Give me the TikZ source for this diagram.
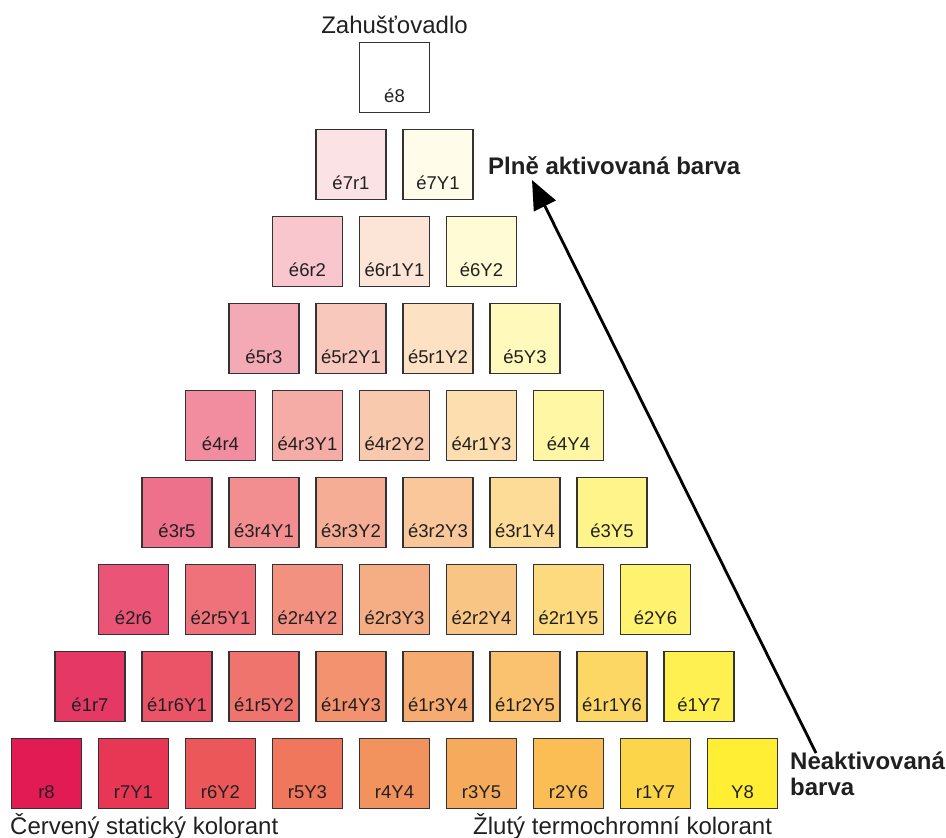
\documentclass[tikz,border=0pt]{standalone}
\usepackage{fontspec}
\setmainfont{Liberation Sans}
\usetikzlibrary{arrows.meta}

\definecolor{edge}{HTML}{333333}
\definecolor{ink}{HTML}{202020}

% Colour of the pure red/yellow mixtures (bottom row, 8 parts red ... 8 parts yellow)
\def\redch{{226,232,236,240,242,246,251,253,255}}
\def\grnch{{27,55,88,118,146,171,190,213,238}}
\def\bluch{{85,85,90,92,92,92,85,72,52}}

\begin{document}
\begin{tikzpicture}[x=1pt,y=-1pt,
  cellbox/.style={draw=edge, line width=1.4pt, minimum size=70pt, inner sep=0pt},
  celltext/.style={font=\fontsize{18.5}{20}\selectfont, text=ink, inner sep=0pt, anchor=base},
  caption/.style={font=\fontsize{24}{26}\selectfont, text=ink, inner sep=0pt, anchor=base west},
  callout/.style={font=\bfseries\fontsize{24}{26}\selectfont, text=ink, inner sep=0pt, anchor=base west},
  pointer/.style={line width=2.8pt, draw=black, -{Triangle[length=29pt,width=24pt]}}
]
\useasboundingbox (0,0) rectangle (946,838);

% Triangle of swatches: row k has k+1 cells, é = 8-k, r = k-j, Y = j
\foreach \k in {0,...,8} {
  \foreach \j in {0,...,\k} {
    \pgfmathtruncatemacro\nE{8-\k}
    \pgfmathtruncatemacro\nR{\k-\j}
    \pgfmathtruncatemacro\nY{\j}
    \ifnum\k=0
      \definecolor{cellfill}{RGB}{255,255,255}
    \else
      \pgfmathsetmacro\tpos{8*\j/\k}
      \pgfmathtruncatemacro\ia{floor(\tpos+0.0001)}
      \pgfmathtruncatemacro\ib{min(\ia+1,8)}
      \pgfmathsetmacro\fr{max(\tpos-\ia,0)}
      \pgfmathsetmacro\cR{\redch[\ia]*(1-\fr)+\redch[\ib]*\fr}
      \pgfmathsetmacro\cG{\grnch[\ia]*(1-\fr)+\grnch[\ib]*\fr}
      \pgfmathsetmacro\cB{\bluch[\ia]*(1-\fr)+\bluch[\ib]*\fr}
      % tint towards white; the blue channel bends with the red/yellow share
      \pgfmathsetmacro\tint{\nE*\k/64}
      \pgfmathsetmacro\bfix{(40*\nY/\k-48*\nR/\k)*\tint}
      \pgfmathtruncatemacro\vR{round(255*\nE/8+\cR*\k/8)}
      \pgfmathtruncatemacro\vG{round(255*\nE/8+\cG*\k/8)}
      \pgfmathtruncatemacro\vB{min(255,round(255*\nE/8+\cB*\k/8+\bfix))}
      \definecolor{cellfill}{RGB}{\vR,\vG,\vB}
    \fi
    \node[cellbox, fill=cellfill] (c-\k-\j) at ({394.5-43.5*\k+87*\j},{77.5+87*\k}) {};
    \node[celltext] (t-\k-\j) at ([yshift=11pt]c-\k-\j.south)
      {\ifnum\nE>0 é\nE\fi\ifnum\nR>0 r\nR\fi\ifnum\nY>0 Y\nY\fi};
  }
}

% Captions
\node[caption, anchor=base] (thick) at (394.5,33) {Zahušťovadlo};
\node[caption] (red) at (10,834) {Červený statický kolorant};
\node[caption] (yel) at (473,834) {Žlutý termochromní kolorant};

% Activation labels and arrow
\node[callout] (plne) at (488,174) {Plně aktivovaná barva};
\node[callout] (neak) at (790,769) {Neaktivovaná};
\node[callout] (neakb) at (790,795) {barva};
\draw[pointer] ([xshift=26pt,yshift=16pt]neak.base west) -- ([xshift=44pt,yshift=-6pt]plne.base west);
\end{tikzpicture}
\end{document}
